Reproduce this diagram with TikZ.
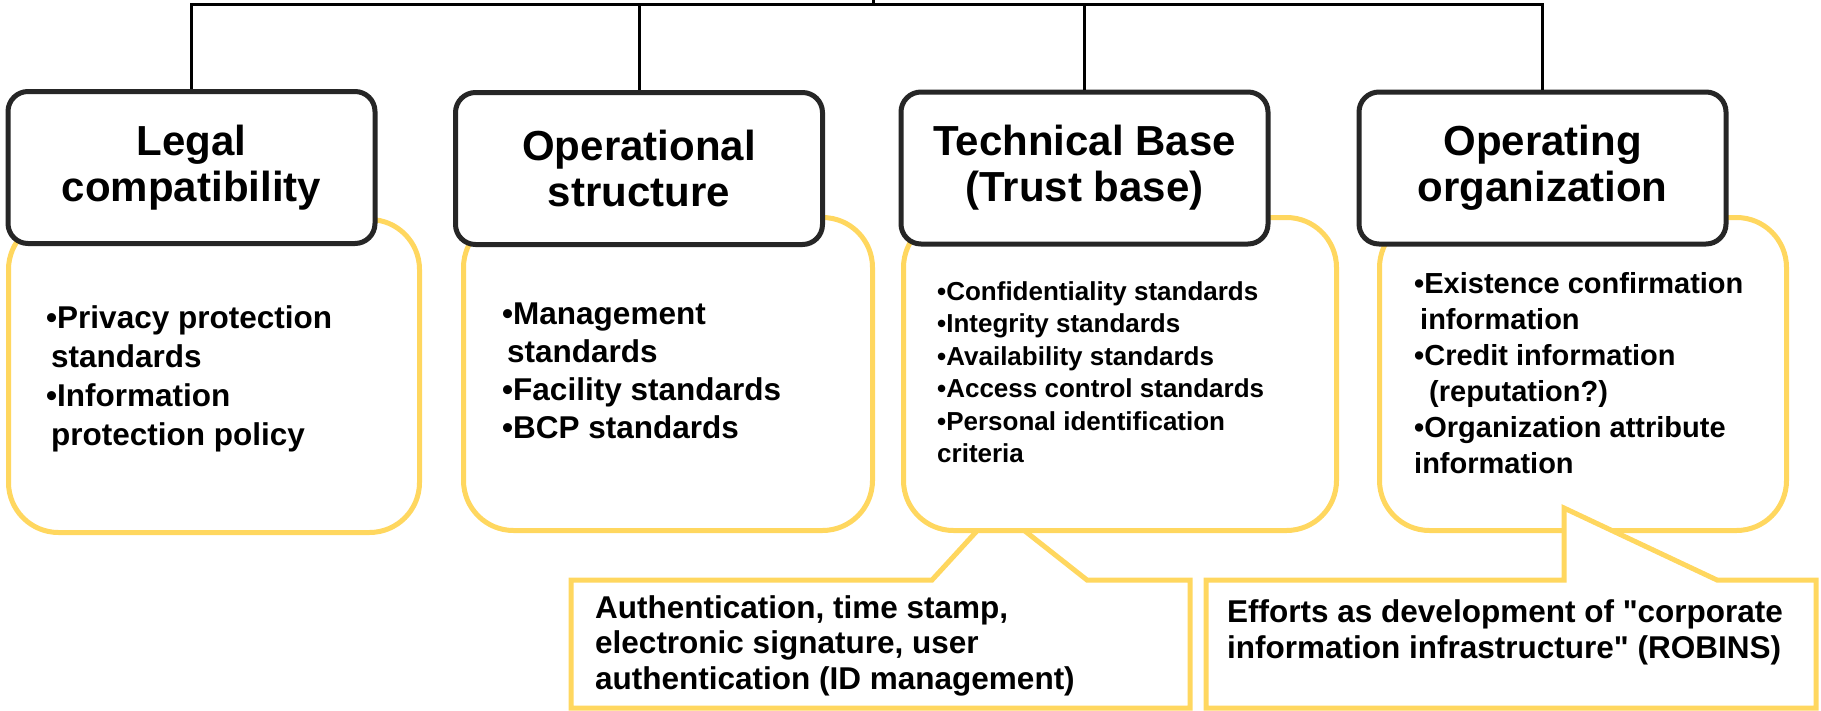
\documentclass[tikz,border=0pt]{standalone}
\usepackage{fontspec}
\setmainfont{Liberation Sans}
\definecolor{gold}{RGB}{255,215,95}
\definecolor{boxline}{RGB}{38,38,38}
\tikzset{
  head/.style={draw=boxline, line width=5pt, rounded corners=20pt, fill=white,
    minimum width=367pt, minimum height=152pt, align=center,
    font=\fontsize{42}{46}\selectfont\bfseries},
  panel/.style={draw=gold, line width=5pt, rounded corners=50pt, fill=white,
    minimum height=313pt},
  items/.style={anchor=north west, inner sep=0pt, align=left},
  callout/.style={draw=gold, line width=5pt, fill=white, line join=miter},
  link/.style={line width=3pt}
}
\begin{document}
\begin{tikzpicture}[x=1pt,y=-1pt]
  \useasboundingbox (0,0) rectangle (1821,710);

  % left note, its tip hidden under the third panel
  \path[callout] (571,580) -- (932,580) -- (997,509) -- (1087,580) -- (1190,580)
    -- (1190,708) -- (571,708) -- cycle;
  \node[items, font=\fontsize{31.5}{35.5}\selectfont\bfseries] (authtext) at (595,595)
    {Authentication, time stamp,\\electronic signature, user\\authentication (ID management)};

  \node[panel, minimum width=411pt] (legalbox) at (214,376) {};
  \node[panel, minimum width=409pt] (opsbox) at (668,374) {};
  \node[panel, minimum width=433pt] (techbox) at (1120,374) {};
  \node[panel, minimum width=407pt] (orgbox) at (1583,374) {};

  \node[items, font=\fontsize{31.5}{39}\selectfont\bfseries] (legaltext) at (46,305)
    {•Privacy protection\\\hspace*{5pt}standards\\•Information\\\hspace*{5pt}protection policy};
  \node[items, font=\fontsize{31.5}{38}\selectfont\bfseries] (opstext) at (502,303)
    {•Management\\\hspace*{5pt}standards\\•Facility standards\\•BCP standards};
  \node[items, font=\fontsize{26}{32.5}\selectfont\bfseries] (techtext) at (937,281)
    {•Confidentiality standards\\•Integrity standards\\•Availability standards\\
     •Access control standards\\•Personal identification\\criteria};
  \node[items, font=\fontsize{29}{36}\selectfont\bfseries] (orgtext) at (1414,272)
    {•Existence confirmation\\\hspace*{6pt}information\\•Credit information\\
     \hspace*{15pt}(reputation?)\\•Organization attribute\\information};

  % right note, its tip over the fourth panel
  \path[callout] (1206,580) -- (1564,580) -- (1564,508) -- (1717,580) -- (1816,580)
    -- (1816,708) -- (1206,708) -- cycle;
  \node[items, font=\fontsize{31.5}{36}\selectfont\bfseries] (robinstext) at (1227,599)
    {Efforts as development of \textquotedbl corporate\\information infrastructure\textquotedbl{} (ROBINS)};

  \node[head] (legal) at (191.5,167.5) {Legal\\compatibility};
  \node[head] (ops) at (639,168.5) {Operational\\structure};
  \node[head] (tech) at (1084.5,168) {Technical Base\\(Trust base)};
  \node[head] (org) at (1542.5,168) {Operating\\organization};

  \coordinate (root) at (873,4.5);
  \coordinate (up) at (873,0);
  \draw[link] (up) -- (root);
  \foreach \n in {legal,ops,tech,org}
    \draw[link] (root) -| (\n.north);
\end{tikzpicture}
\end{document}
